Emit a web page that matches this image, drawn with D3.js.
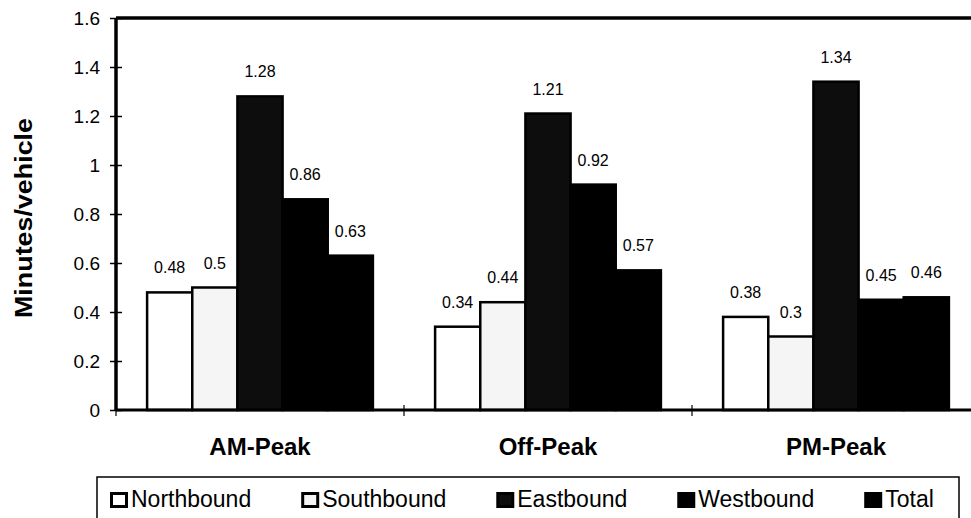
<!DOCTYPE html>
<html>
<head>
<meta charset="utf-8">
<script src="https://cdn.jsdelivr.net/npm/d3@7"></script>
<style>
  html, body { margin: 0; padding: 0; background: #fff; }
  svg { display: block; }
  text { font-family: Arial, "Liberation Sans", sans-serif; fill: #000; }
</style>
</head>
<body>
<svg id="chart" width="971" height="518"></svg>
<script>
// Time periods along the x axis
const periods = ["AM-Peak", "Off-Peak", "PM-Peak"];
// Approach directions (one bar each per period)
const directions = ["Northbound", "Southbound", "Eastbound", "Westbound", "Total"];
// Delay in minutes per vehicle, one array per direction, ordered as periods
const northbound = [0.48, 0.34, 0.38];
const southbound = [0.5, 0.44, 0.3];
const eastbound = [1.28, 1.21, 1.34];
const westbound = [0.86, 0.92, 0.45];
const total = [0.63, 0.57, 0.46];
// Y axis ticks
const yTicks = [0, 0.2, 0.4, 0.6, 0.8, 1, 1.2, 1.4, 1.6];
const yTitle = "Minutes/vehicle";

const seriesValues = [northbound, southbound, eastbound, westbound, total];
const fills = ["#ffffff", "#f5f5f5", "#0d0d0d", "#000000", "#000000"];

const svg = d3.select("#chart");
const plotLeft = 116, plotRight = 980, plotTop = 18, plotBottom = 410;

const x = d3.scaleBand().domain(periods).range([plotLeft, plotRight]).paddingInner(0).paddingOuter(0);
const pad = x.bandwidth() * 0.108;
const xi = d3.scaleBand().domain(directions).range([pad, x.bandwidth() - pad]).padding(0);
const y = d3.scaleLinear().domain([0, 1.6]).range([plotBottom, plotTop]);

// Bars
const rows = [];
periods.forEach((p, pi) => {
  directions.forEach((d, di) => {
    rows.push({ period: p, dir: d, di, value: seriesValues[di][pi] });
  });
});

const g = svg.append("g");
g.selectAll("rect.bar").data(rows).join("rect")
  .attr("class", "bar")
  .attr("x", r => x(r.period) + xi(r.dir))
  .attr("y", r => y(r.value))
  .attr("width", xi.bandwidth())
  .attr("height", r => y(0) - y(r.value))
  .attr("fill", r => fills[r.di])
  .attr("stroke", "#000")
  .attr("stroke-width", 2.5);

// Value labels above bars
g.selectAll("text.val").data(rows).join("text")
  .attr("class", "val")
  .attr("x", r => x(r.period) + xi(r.dir) + xi.bandwidth() / 2)
  .attr("y", r => y(r.value) - 19)
  .attr("text-anchor", "middle")
  .style("font-size", "16px")
  .text(r => d3.format("")(r.value));

// Plot frame: top line
svg.append("line")
  .attr("x1", plotLeft).attr("x2", plotRight)
  .attr("y1", plotTop).attr("y2", plotTop)
  .attr("stroke", "#000").attr("stroke-width", 3.5);

// Y axis
const yAxis = svg.append("g")
  .attr("transform", `translate(${plotLeft},0)`)
  .call(d3.axisLeft(y).tickValues(yTicks).tickSize(6).tickPadding(10).tickFormat(d3.format("")));
yAxis.select(".domain").attr("stroke", "#000").attr("stroke-width", 3.5).attr("d", `M0,${plotTop}V${plotBottom}`);
yAxis.selectAll(".tick line").attr("x1", -6).attr("x2", 6).attr("stroke-width", 1.5);
yAxis.selectAll(".tick text")
  .style("font-size", "19px")
  .style("font-family", "Arial, 'Liberation Sans', sans-serif");

// X axis with ticks between categories
const xAxis = svg.append("g")
  .attr("transform", `translate(0,${plotBottom})`)
  .call(d3.axisBottom(x).tickSize(0).tickPadding(28));
xAxis.select(".domain").attr("stroke", "#000").attr("stroke-width", 3).attr("d", `M${plotLeft},0H${plotRight}`);
xAxis.selectAll(".tick text")
  .style("font-size", "24px")
  .style("font-weight", "bold")
  .style("font-family", "Arial, 'Liberation Sans', sans-serif")
  .attr("dy", "0.71em");
xAxis.selectAll("line.sep").data(periods).join("line")
  .attr("class", "sep")
  .attr("x1", p => x(p)).attr("x2", p => x(p))
  .attr("y1", -5).attr("y2", 6)
  .attr("stroke", "#000").attr("stroke-width", 1.2);

// Y axis title
svg.append("text")
  .attr("transform", "translate(32,218) rotate(-90)")
  .attr("text-anchor", "middle")
  .attr("textLength", 200)
  .attr("lengthAdjust", "spacingAndGlyphs")
  .style("font-size", "24px")
  .style("font-weight", "bold")
  .text(yTitle);

// Legend
const legend = svg.append("g");
legend.append("rect")
  .attr("x", 97).attr("y", 477).attr("width", 862).attr("height", 60)
  .attr("fill", "none").attr("stroke", "#000").attr("stroke-width", 1.5);

let lx = 110;
directions.forEach((d, i) => {
  const item = legend.append("g");
  item.append("rect")
    .attr("x", lx + 1.5).attr("y", 493.5).attr("width", 15).attr("height", 13)
    .attr("fill", fills[i]).attr("stroke", "#000").attr("stroke-width", 3);
  const t = item.append("text")
    .attr("x", lx + 21).attr("y", 507)
    .style("font-size", "23px")
    .text(d);
  lx = lx + 21 + t.node().getComputedTextLength() + 50;
});
</script>
</body>
</html>
